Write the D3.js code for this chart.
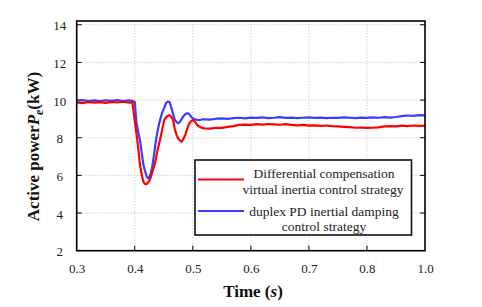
<!DOCTYPE html>
<html><head><meta charset="utf-8">
<script src="https://cdn.jsdelivr.net/npm/d3@7"></script>
<style>body{margin:0;background:#fff}svg{display:block}svg text{font-family:"Liberation Serif","Times New Roman",serif}</style>
</head><body><svg id="c" width="482" height="307"></svg>
<script>
const xTickValues = [0.3,0.4,0.5,0.6,0.7,0.8,0.9];
const xTickLabels = ["0.3","0.4","0.5","0.6","0.7","0.8","1.0"];
const yTickValues = [2,4,6,8,10,12,14];
const seriesNames = ["Differential compensation|virtual inertia control strategy","duplex PD inertial damping|control strategy"];
const time = [0.300,0.310,0.320,0.330,0.340,0.350,0.360,0.370,0.380,0.390,0.396,0.400,0.403,0.406,0.409,0.412,0.415,0.418,0.421,0.424,0.427,0.430,0.433,0.436,0.439,0.442,0.445,0.448,0.451,0.454,0.457,0.460,0.463,0.466,0.469,0.472,0.475,0.478,0.481,0.484,0.487,0.490,0.493,0.496,0.500,0.504,0.508,0.512,0.516,0.520,0.530,0.540,0.550,0.560,0.570,0.580,0.590,0.600,0.610,0.620,0.630,0.640,0.650,0.660,0.670,0.680,0.690,0.700,0.710,0.720,0.730,0.740,0.750,0.760,0.770,0.780,0.790,0.800,0.810,0.820,0.830,0.840,0.850,0.860,0.870,0.880,0.890,0.900];
const redPower = [9.88,9.84,9.90,9.86,9.89,9.85,9.90,9.87,9.91,9.86,9.88,8.90,8.20,7.45,6.55,6.05,5.65,5.54,5.55,5.66,5.85,6.15,6.45,6.80,7.30,7.70,8.10,8.55,8.95,9.08,9.17,9.20,9.10,8.95,8.45,8.15,7.95,7.85,7.79,7.95,8.15,8.45,8.70,8.85,8.94,8.85,8.65,8.58,8.52,8.50,8.48,8.53,8.52,8.58,8.62,8.68,8.70,8.68,8.72,8.70,8.73,8.71,8.69,8.72,8.68,8.66,8.68,8.64,8.66,8.63,8.65,8.62,8.60,8.58,8.56,8.53,8.54,8.52,8.53,8.55,8.60,8.62,8.60,8.64,8.62,8.65,8.63,8.64];
const bluePower = [9.96,10.00,9.95,9.98,9.94,9.99,9.96,10.00,9.95,9.98,9.96,9.90,8.80,8.30,7.88,7.20,6.55,6.20,5.90,5.84,6.05,6.45,7.05,7.75,8.30,8.75,9.10,9.40,9.60,9.85,9.92,9.90,9.60,9.25,8.95,8.83,8.77,8.85,9.00,9.15,9.25,9.30,9.28,9.15,9.03,8.98,8.94,8.94,8.97,8.98,8.96,9.01,9.03,9.00,9.04,9.06,9.03,9.07,9.05,9.08,9.04,9.06,9.09,9.05,9.07,9.04,9.06,9.08,9.05,9.07,9.04,9.06,9.05,9.08,9.06,9.04,9.07,9.05,9.08,9.06,9.09,9.07,9.10,9.15,9.18,9.16,9.20,9.19];
const colors = ["#ff0000","#3c3cff"];

const svg = d3.select("#c");
const L=76.7, R=425, T=21, B=250.7;
const x = d3.scaleLinear().domain([0.3,0.9]).range([L,R]);
const y = d3.scaleLinear().domain([2,14.2]).range([B,T]);
const font = '"Liberation Serif","Times New Roman",serif';

// grid
const g = svg.append("g");
g.selectAll(".gx").data(xTickValues.slice(1,-1)).enter().append("line")
  .attr("x1",d=>x(d)).attr("x2",d=>x(d)).attr("y1",T).attr("y2",B)
  .attr("stroke","#c8c8c8").attr("stroke-width",0.8).attr("stroke-dasharray","1.5,1.5");
g.selectAll(".gy").data(yTickValues.slice(1)).enter().append("line")
  .attr("x1",L).attr("x2",R).attr("y1",d=>y(d)).attr("y2",d=>y(d))
  .attr("stroke","#c8c8c8").attr("stroke-width",0.8).attr("stroke-dasharray","1.5,1.5");

// axes
const xAxis = d3.axisBottom(x).tickValues(xTickValues).tickSize(0).tickPadding(13)
  .tickFormat((d,i)=>xTickLabels[i]);
const ax = svg.append("g").attr("transform",`translate(0,${B})`).call(xAxis).attr("font-family",null);
ax.select(".domain").remove();
ax.selectAll("text").style("font-family",font).style("font-size","13px").attr("fill","#222");
const yAxis = d3.axisLeft(y).tickValues(yTickValues).tickSize(0).tickPadding(10);
const ay = svg.append("g").attr("transform",`translate(${L},0)`).call(yAxis).attr("font-family",null);
ay.select(".domain").remove();
ay.selectAll("text").style("font-family",font).style("font-size","13px").attr("fill","#222")
  .attr("text-anchor","middle").attr("x",-17).attr("dy","0.4em");

// inward ticks
svg.selectAll(".tb").data(xTickValues.slice(1,-1)).enter().append("line")
  .attr("x1",d=>x(d)).attr("x2",d=>x(d)).attr("y1",B).attr("y2",B-5).attr("stroke","#000").attr("stroke-width",1);
svg.selectAll(".tl").data(yTickValues.slice(1)).enter().append("line")
  .attr("x1",L).attr("x2",L+5).attr("y1",d=>y(d)).attr("y2",d=>y(d)).attr("stroke","#000").attr("stroke-width",1);
svg.selectAll(".tr").data(yTickValues.slice(1)).enter().append("line")
  .attr("x1",R).attr("x2",R-5).attr("y1",d=>y(d)).attr("y2",d=>y(d)).attr("stroke","#000").attr("stroke-width",1);

// lines
const line = d3.line().x((d,i)=>x(time[i])).y(d=>y(d));
[[bluePower,colors[1]],[redPower,colors[0]]].forEach(([s,c])=>{
  svg.append("path").datum(s).attr("d",line).attr("fill","none").attr("stroke",c)
    .attr("stroke-width",2.2).attr("stroke-linejoin","round");
});

// frame
svg.append("rect").attr("x",L).attr("y",T).attr("width",R-L).attr("height",B-T)
  .attr("fill","none").attr("stroke","#000").attr("stroke-width",1.6);

// legend
const lg = svg.append("g");
lg.append("rect").attr("x",195).attr("y",160).attr("width",216.5).attr("height",75)
  .attr("fill","#fff").attr("stroke","#111").attr("stroke-width",1.6);
const legRows = [[179.5,173,189.5],[211,211,226.5]];
seriesNames.forEach((n,i)=>{
  const [ly,t1,t2] = legRows[i];
  lg.append("line").attr("x1",198).attr("x2",244).attr("y1",ly).attr("y2",ly)
    .attr("stroke",colors[i]).attr("stroke-width",1.8);
  const parts = n.split("|");
  lg.append("text").attr("x",324).attr("y",t1).attr("dy","0.35em").attr("text-anchor","middle")
    .style("font-family",font).style("font-size","13.5px").attr("fill","#222").text(parts[0]);
  lg.append("text").attr("x",i===0?323:324).attr("y",t2).attr("dy","0.35em").attr("text-anchor","middle")
    .style("font-family",font).style("font-size","13.5px").attr("fill","#222").text(parts[1]);
});

// axis titles
const xt = svg.append("text").attr("x",253).attr("y",297).attr("text-anchor","middle")
  .style("font-family",font).style("font-size","17px").attr("font-weight","bold").attr("fill","#111");
xt.append("tspan").text("Time (");
xt.append("tspan").attr("font-style","italic").text("s");
xt.append("tspan").text(")");

const yt = svg.append("text").attr("transform","translate(39,146.5) rotate(-90)").attr("text-anchor","middle")
  .style("font-family",font).style("font-size","17px").attr("font-weight","bold").attr("fill","#111");
yt.append("tspan").text("Active power");
yt.append("tspan").attr("font-style","italic").text("P");
yt.append("tspan").attr("font-style","italic").style("font-size","12px").attr("dy",4).text("e");
yt.append("tspan").attr("dy",-4).text("(kW)");
</script></body></html>
